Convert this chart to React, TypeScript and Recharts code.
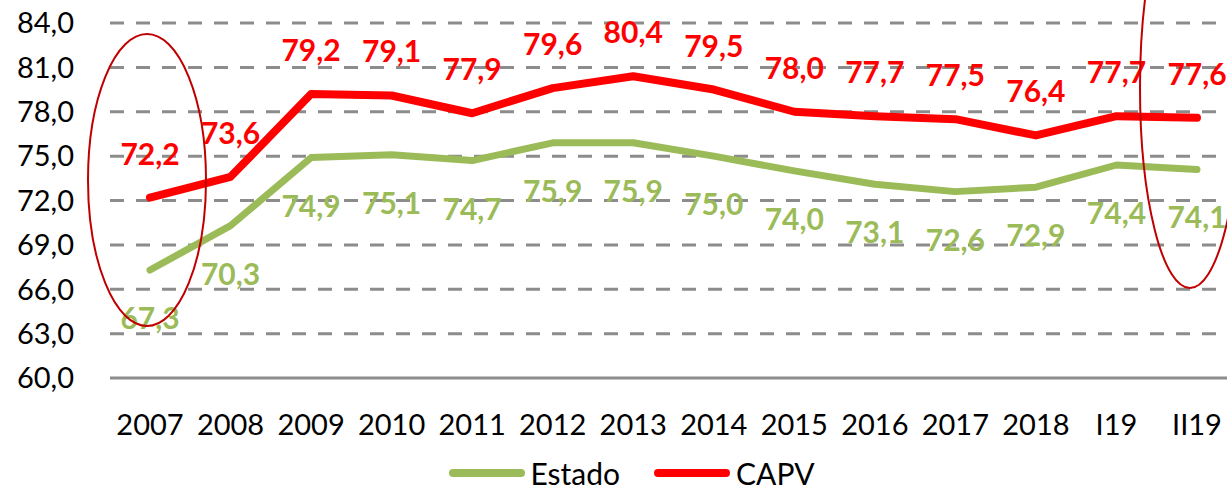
import { LineChart, Line, XAxis, YAxis, CartesianGrid, Legend, LabelList } from "recharts";

const categories = ["2007", "2008", "2009", "2010", "2011", "2012", "2013", "2014", "2015", "2016", "2017", "2018", "I19", "II19"];
const estado = [67.3, 70.3, 74.9, 75.1, 74.7, 75.9, 75.9, 75.0, 74.0, 73.1, 72.6, 72.9, 74.4, 74.1];
const capv = [72.2, 73.6, 79.2, 79.1, 77.9, 79.6, 80.4, 79.5, 78.0, 77.7, 77.5, 76.4, 77.7, 77.6];
const yTicks = [60, 63, 66, 69, 72, 75, 78, 81, 84];

const data = categories.map((year, i) => ({ year, estado: estado[i], capv: capv[i] }));

const GREEN = "#9BBB59";
const RED = "#FF0000";
const FONT = "Lato, 'Open Sans', sans-serif";

const fmt = (v: number) => v.toFixed(1).replace(".", ",");

function makeLabel(color: string, dy: number) {
  return (props: any) => {
    const { x, y, value } = props;
    return (
      <text
        x={x}
        y={y + dy}
        textAnchor="middle"
        dominantBaseline="central"
        fill={color}
        fontFamily={FONT}
        fontWeight="bold"
        fontSize={30}
      >
        {fmt(value)}
      </text>
    );
  };
}

function LegendContent() {
  const item = (color: string, text: string) => (
    <div style={{ display: "flex", alignItems: "center" }}>
      <div style={{ width: 76, height: 8, borderRadius: 4, background: color }} />
      <span style={{ fontFamily: FONT, fontSize: 30, color: "#000", marginLeft: 6 }}>{text}</span>
    </div>
  );
  return (
    <div style={{ display: "flex", justifyContent: "center", gap: 34, paddingLeft: 36, marginTop: 15 }}>
      {item(GREEN, "Estado")}
      {item(RED, "CAPV")}
    </div>
  );
}

export default function App() {
  return (
    <div style={{ position: "absolute", left: 0, top: 0, width: 1227, height: 490, overflow: "hidden", background: "#fff" }}>
      <LineChart width={1227} height={490} data={data} margin={{ top: 23, right: 0, left: 0, bottom: 0 }}>
        <CartesianGrid
          vertical={false}
          horizontalValues={yTicks.slice(1)}
          stroke="#8c8c8c"
          strokeWidth={3}
          strokeDasharray="14 12"
        />
        <XAxis
          dataKey="year"
          interval={0}
          padding={{ left: 40, right: 30 }}
          tickLine={false}
          axisLine={{ stroke: "#8c8c8c", strokeWidth: 3 }}
          height={62}
          tickMargin={30}
          tick={{ fontSize: 29, fill: "#000", fontFamily: FONT }}
        />
        <YAxis
          domain={[60, 84]}
          ticks={yTicks}
          width={110}
          axisLine={false}
          tickLine={false}
          tickMargin={30}
          tickFormatter={fmt}
          tick={{ fontSize: 29, fill: "#000", fontFamily: FONT }}
        />
        <Legend verticalAlign="bottom" height={50} content={() => <LegendContent />} />
        <Line
          dataKey="estado"
          name="Estado"
          stroke={GREEN}
          strokeWidth={7}
          dot={false}
          strokeLinecap="round"
          strokeLinejoin="round"
          isAnimationActive={false}
        >
          <LabelList dataKey="estado" content={makeLabel(GREEN, 47)} />
        </Line>
        <Line
          dataKey="capv"
          name="CAPV"
          stroke={RED}
          strokeWidth={8}
          dot={false}
          strokeLinecap="round"
          strokeLinejoin="round"
          isAnimationActive={false}
        >
          <LabelList dataKey="capv" content={makeLabel(RED, -45)} />
        </Line>
      </LineChart>
      <svg width={1227} height={490} style={{ position: "absolute", left: 0, top: 0, pointerEvents: "none" }}>
        <ellipse cx={147} cy={180} rx={59} ry={146} fill="none" stroke="#C00000" strokeWidth={2} />
        <ellipse cx={1190} cy={88} rx={50} ry={200} fill="none" stroke="#C00000" strokeWidth={2} />
      </svg>
    </div>
  );
}
